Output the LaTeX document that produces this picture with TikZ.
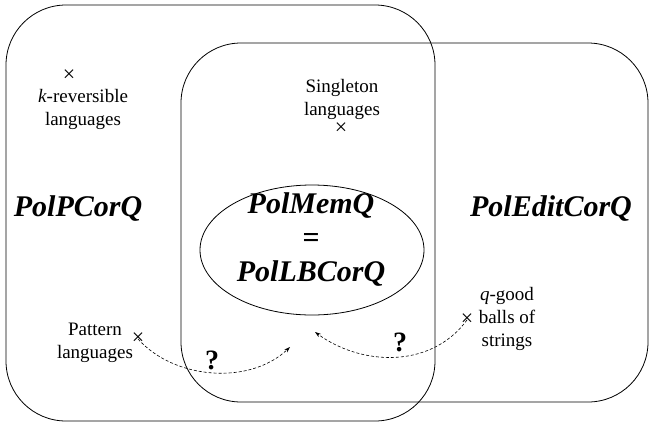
\documentclass[tikz,border=0pt]{standalone}
\usepackage{fontspec}
\setmainfont{Liberation Serif}
\usetikzlibrary{arrows.meta}
\begin{document}
\begin{tikzpicture}[x=1pt,y=-1pt,
  setbox/.style={draw, line width=0.8pt, rounded corners=60pt},
  big/.style={font=\fontsize{30}{34}\selectfont\bfseries\itshape, inner sep=0pt},
  small/.style={font=\fontsize{19}{23}\selectfont, align=center, inner sep=0pt},
  cross/.style={font=\fontsize{22}{22}\selectfont, inner sep=0pt},
  qmark/.style={font=\fontsize{28}{28}\selectfont\bfseries, inner sep=0pt},
  link/.style={densely dashed, line width=0.6pt, -{Stealth[length=6pt,width=4pt]}}]
\useasboundingbox (0,0) rectangle (650,424);
\draw[setbox] (6,5) rectangle (435,421);
\draw[setbox] (181,43) rectangle (648,402);
\draw[line width=0.8pt] (312,250) ellipse [x radius=112, y radius=65];
\node[big, anchor=base] (pc) at (78,216) {PolPCorQ};
\node[big, anchor=base] (pe) at (551,216) {PolEditCorQ};
\node[big, align=center] (pm) at (311,240) {PolMemQ\\=\\PolLBCorQ};
\node[cross] (xk) at (69,76) {×};
\node[small] (tk) at (83,109) {\textit{k}-reversible\\languages};
\node[small] (ts) at (342,99) {Singleton\\languages};
\node[cross] (xs) at (341,129) {×};
\node[small] (tp) at (95,343) {Pattern\\languages};
\node[cross] (xp) at (138,339) {×};
\node[small] (tq) at (507,319) {\textit{q}-good\\balls of\\strings};
\node[cross] (xq) at (467,320) {×};
\coordinate (ap) at (290,347);
\coordinate (aq) at (315,332);
\draw[link] (xp.center) .. controls (175,380) and (250,385) .. (ap);
\draw[link] (xq.center) .. controls (430,370) and (360,365) .. (aq);
\node[qmark] (q1) at (212,360) {?};
\node[qmark] (q2) at (400,342) {?};
\end{tikzpicture}
\end{document}
